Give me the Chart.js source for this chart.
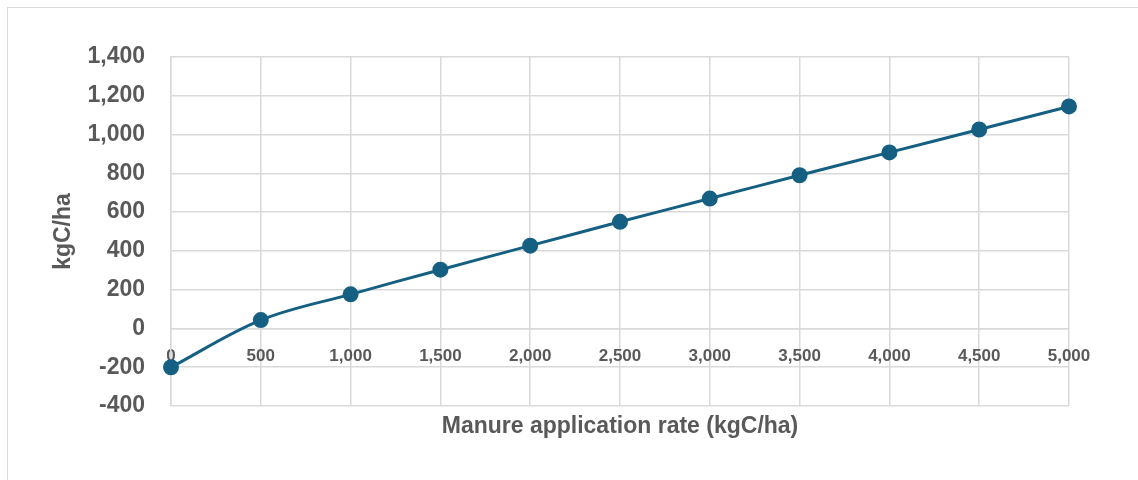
<!DOCTYPE html>
<html lang="en">

<head>
    <meta charset="UTF-8">
    <title>Manure application rate chart</title>
    <script src="https://cdn.jsdelivr.net/npm/chart.js"></script>
    <style>
        body { margin: 0; background: #fff; overflow: hidden; }
        #frame { position: absolute; left: 7px; top: 7px; width: 1160px; height: 500px; border: 1px solid #d9d9d9; }
        #wrap { position: absolute; left: 0; top: 0; width: 1138px; height: 480px; }
    </style>
</head>

<body>
    <div id="frame"></div>
    <div id="wrap"><canvas id="rateChart"></canvas></div>

    <script>
        // values
        const rates = [0, 500, 1000, 1500, 2000, 2500, 3000, 3500, 4000, 4500, 5000];
        const carbon = [-200, 43, 176, 303, 427, 550, 670, 790, 908, 1026, 1145];
        const yTitle = 'kgC/ha';
        const xTitle = 'Manure application rate (kgC/ha)';

        const lineColor = '#156082';
        const gridColor = '#d9d9d9';
        const textColor = '#595959';
        const fontFamily = '"Liberation Sans", Arial, sans-serif';

        const ctx = document.getElementById('rateChart').getContext('2d');
        new Chart(ctx, {
            type: 'line',
            data: {
                datasets: [{
                    data: rates.map((r, i) => ({ x: r, y: carbon[i] })),
                    borderColor: lineColor,
                    backgroundColor: lineColor,
                    borderWidth: 3,
                    pointRadius: 6.5,
                    pointBackgroundColor: lineColor,
                    pointBorderColor: lineColor,
                    tension: 0.35,
                    clip: false
                }]
            },
            options: {
                responsive: true,
                maintainAspectRatio: false,
                animation: false,
                layout: { padding: { left: 50, top: 57, right: 69, bottom: 40 } },
                scales: {
                    x: {
                        type: 'linear',
                        position: { y: 0 },
                        min: 0,
                        max: 5000,
                        grid: { color: gridColor, lineWidth: 1.5, drawTicks: false },
                        border: { color: gridColor, width: 1.5 },
                        ticks: {
                            stepSize: 500,
                            padding: 18,
                            color: textColor,
                            font: { family: fontFamily, size: 17, weight: 'bold' },
                            maxRotation: 0
                        }
                    },
                    x2: {
                        type: 'linear',
                        position: 'bottom',
                        grid: { display: false, drawTicks: false },
                        border: { display: false },
                        ticks: { display: false },
                        title: {
                            display: true,
                            text: xTitle,
                            color: textColor,
                            font: { family: fontFamily, size: 23, weight: 'bold' },
                            padding: { top: 0, bottom: 0 }
                        },
                        afterFit: s => { s.height = 34; }
                    },
                    y: {
                        min: -400,
                        max: 1400,
                        grid: { color: gridColor, lineWidth: 1.5, drawTicks: false },
                        border: { color: gridColor, width: 1.5 },
                        ticks: {
                            stepSize: 200,
                            padding: 26,
                            color: textColor,
                            font: { family: fontFamily, size: 23, weight: 'bold' }
                        },
                        title: {
                            display: true,
                            text: yTitle,
                            color: textColor,
                            font: { family: fontFamily, size: 23, weight: 'bold' },
                            padding: { top: 0, bottom: 0 }
                        },
                        afterFit: s => { s.width = 121; }
                    }
                },
                plugins: {
                    legend: { display: false },
                    tooltip: { enabled: false }
                }
            }
        });
    </script>
</body>

</html>
